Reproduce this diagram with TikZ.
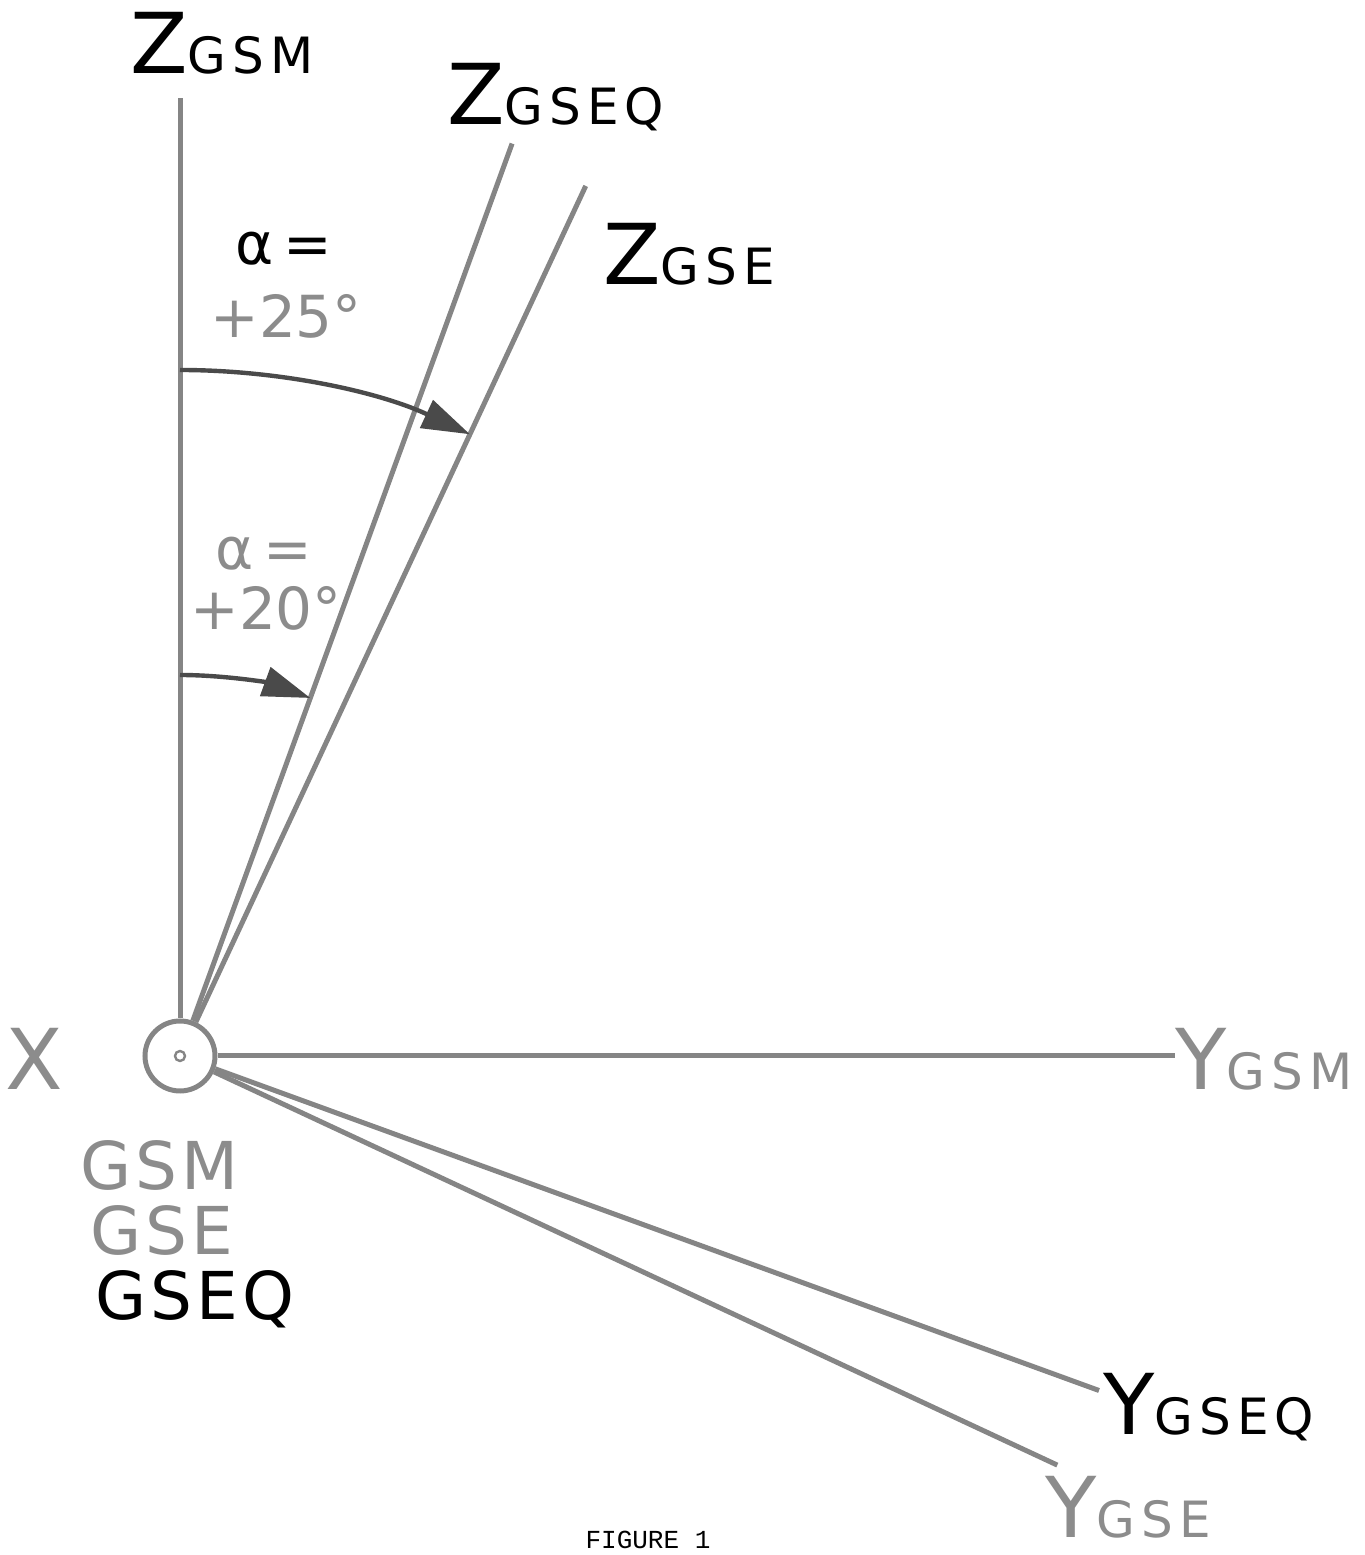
\documentclass[tikz,border=0pt]{standalone}
\usepackage{fontspec}
\setmainfont{DejaVu Sans}
\setmonofont{Liberation Mono}
\usepackage{xcolor}
\definecolor{LineGray}{HTML}{858585}
\definecolor{InkGray}{HTML}{8C8C8C}
\definecolor{ArrowGray}{HTML}{4A4A4A}
\usetikzlibrary{arrows.meta, calc}
\newcommand{\bigletter}{\fontsize{42}{42}\selectfont}
\newcommand{\subletters}{\fontsize{25}{25}\selectfont\addfontfeature{LetterSpace=12}}
\newcommand{\anglefont}{\fontsize{29}{29}\selectfont}
\newcommand{\framefont}{\fontsize{33}{33}\selectfont\addfontfeature{LetterSpace=6}}

\begin{document}
\begin{tikzpicture}[x=0.5pt, y=0.5pt,
    axisline/.style={draw=LineGray, line width=2.5pt},
    arcline/.style={draw=LineGray, line width=2.2pt, -{Triangle[length=24pt, width=15pt]}, ArrowGray},
    label/.style={anchor=base west, inner sep=0pt},
    inklabel/.style={label, text=InkGray}]
    \useasboundingbox (0,0) rectangle (1365,1555);

    % Origin
    \node (origin) [circle, draw=LineGray, line width=2.5pt, minimum size=35pt, inner sep=0pt] at (180,499) {};
    \node (dot) [circle, draw=LineGray, line width=1.2pt, minimum size=5pt, inner sep=0pt] at (origin.center) {};

    % Axis ends
    \coordinate (zgsmend) at (180,1457);
    \coordinate (zgseqend) at ($(origin.center)+(70:971)$);
    \coordinate (zgseend) at ($(origin.center)+(65:960)$);
    \coordinate (ygsmend) at (1175,499);
    \coordinate (ygseqend) at ($(origin.center)+(-20:978)$);
    \coordinate (ygseend) at ($(origin.center)+(-25:968)$);

    \draw[axisline] (origin) -- (zgsmend);
    \draw[axisline] (origin) -- (zgseqend);
    \draw[axisline] (origin) -- (zgseend);
    \draw[axisline] (origin) -- (ygsmend);
    \draw[axisline] (origin) -- (ygseqend);
    \draw[axisline] (origin) -- (ygseend);

    % Rotation arcs
    \coordinate (outerstart) at ($(origin.center)+(90:686)$);
    \coordinate (innerstart) at ($(origin.center)+(90:381)$);
    \draw[arcline] (outerstart) arc[start angle=90, end angle=65, radius=343pt];
    \draw[arcline] (innerstart) arc[start angle=90, end angle=70, radius=190.5pt];

    % Axis labels
    \node (zgsm) [label] at (130,1481) {\bigletter Z{\subletters GSM}};
    \node (zgseq) [label] at (447,1430) {\bigletter Z{\subletters GSEQ}};
    \node (zgse) [label] at (603,1270) {\bigletter Z{\subletters GSE}};
    \node (ygsm) [inklabel] at (1175,465) {\bigletter Y{\subletters GSM}};
    \node (ygseq) [label] at (1103,120) {\bigletter Y{\subletters GSEQ}};
    \node (ygse) [inklabel] at (1045,18) {\bigletter Y{\subletters GSE}};
    \node (xaxis) [inklabel] at (5,465) {\bigletter X};

    % Angles
    \node (alphaouter) [label] at (235,1290) {\anglefont α\,=};
    \node (angleouter) [inklabel] at (210,1217) {\anglefont +25°};
    \node (alphainner) [inklabel] at (215,985) {\anglefont α\,=};
    \node (angleinner) [inklabel] at (190,925) {\anglefont +20°};

    % Frames
    \node (gsm) [inklabel] at (80,365) {\framefont GSM};
    \node (gse) [inklabel] at (90,300) {\framefont GSE};
    \node (gseq) [label] at (95,235) {\framefont GSEQ};

    \node (caption) [anchor=base, inner sep=0pt, font=\ttfamily\fontsize{13}{13}\selectfont] at (648,6) {FIGURE 1};
\end{tikzpicture}
\end{document}
